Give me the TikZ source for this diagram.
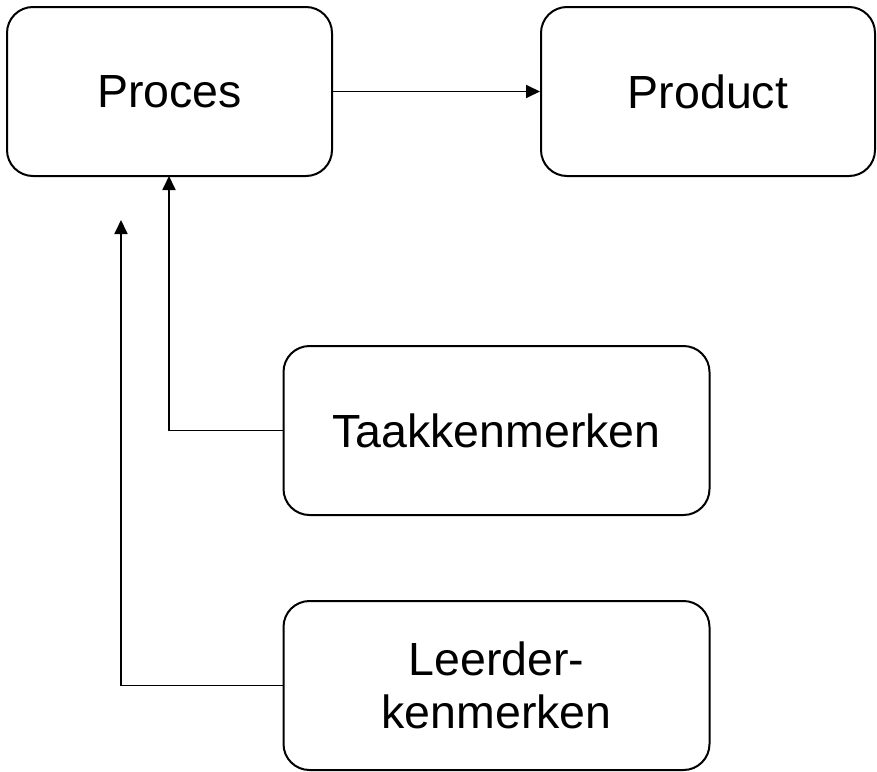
\documentclass[tikz,border=0pt]{standalone}
\usepackage{fontspec}
\setmainfont{Liberation Sans}
\usetikzlibrary{arrows.meta}
\begin{document}
\begin{tikzpicture}[x=1pt,y=-1pt,
  box/.style={draw,line width=2pt,rounded corners=26pt,minimum width=#1,align=center,font=\fontsize{46.5}{53}\selectfont,inner sep=0pt},
  conn/.style={line width=1.8pt,-{Triangle[length=14pt,width=13pt]}}]
\useasboundingbox (0,0) rectangle (877,771);
\node[box=325pt,minimum height=169pt] (proces) at (169.5,91.5) {Proces};
\node[box=334pt,minimum height=169pt] (product) at (708,91.5) {Product};
\node[box=426pt,minimum height=169pt] (taak) at (496.5,430.5) {Taakkenmerken};
\node[box=426pt,minimum height=169pt] (leer) at (496.5,685.5) {Leerder-\\kenmerken};
\coordinate (c1) at (169,176);
\coordinate (c2) at (121,220);
\draw[conn] (proces.east) -- (product.west);
\draw[conn] (taak.west) -| (c1);
\draw[conn] (leer.west) -| (c2);
\end{tikzpicture}
\end{document}
